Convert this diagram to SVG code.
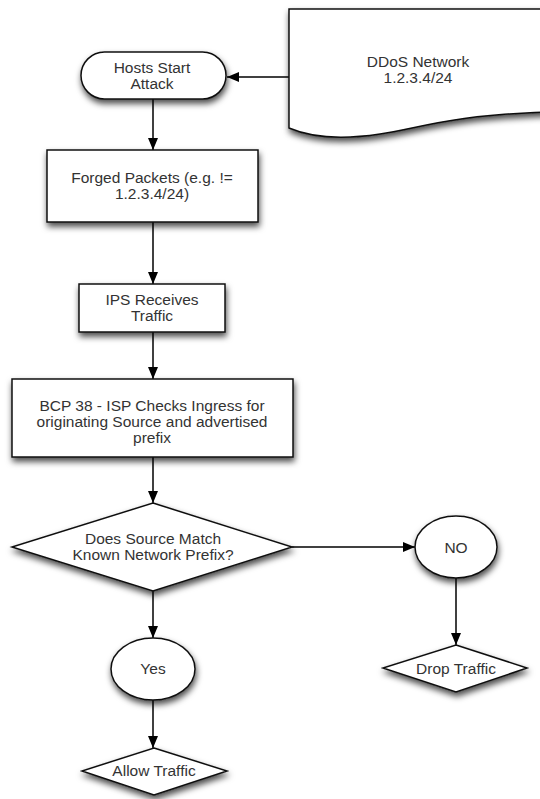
<svg xmlns="http://www.w3.org/2000/svg" width="540" height="799" viewBox="0 0 540 799">
<defs>
<filter id="sh" x="-20%" y="-20%" width="140%" height="160%">
<feDropShadow dx="1" dy="4" stdDeviation="3" flood-color="#000" flood-opacity="0.7"/>
</filter>
<marker id="ah" viewBox="0 0 12 10" refX="12" refY="5" markerWidth="12" markerHeight="10" markerUnits="userSpaceOnUse" orient="auto">
<path d="M0,0 L12,5 L0,10 z" fill="#000"/>
</marker>
</defs>
<style>
.n{fill:#fff;stroke:#111;stroke-width:1.5;filter:url(#sh)}
.t{font-family:"Liberation Sans",Arial,sans-serif;font-size:15.5px;fill:#333;text-anchor:middle}
.c{fill:none;stroke:#000;stroke-width:1.5;marker-end:url(#ah)}
</style>
<rect width="540" height="799" fill="#fff"/>
<g id="connectors">
<line class="c" x1="289" y1="77" x2="227" y2="77"/>
<line class="c" x1="153" y1="99" x2="153" y2="150"/>
<line class="c" x1="153" y1="222" x2="153" y2="284"/>
<line class="c" x1="153" y1="332" x2="153" y2="379"/>
<line class="c" x1="153" y1="457" x2="153" y2="503"/>
<line class="c" x1="292" y1="547" x2="415" y2="547"/>
<line class="c" x1="456" y1="578" x2="456" y2="645"/>
<line class="c" x1="153" y1="591" x2="153" y2="638"/>
<line class="c" x1="153" y1="700" x2="153" y2="748"/>
</g>
<g id="ddos">
<path class="n" d="M289,9 H548 V112 C450,115 420,128 380,134 C340,140 310,137 289,128 Z"/>
<text class="t" x="418" y="67">DDoS Network</text>
<text class="t" x="418" y="83">1.2.3.4/24</text>
</g>
<g id="hosts">
<rect class="n" x="81" y="52" width="145" height="47" rx="23.5"/>
<text class="t" x="152" y="73">Hosts Start</text>
<text class="t" x="152" y="89">Attack</text>
</g>
<g id="forged">
<rect class="n" x="47" y="150" width="211" height="72"/>
<text class="t" x="152" y="183">Forged Packets (e.g. !=</text>
<text class="t" x="152" y="199">1.2.3.4/24)</text>
</g>
<g id="ips">
<rect class="n" x="79" y="284" width="146" height="48"/>
<text class="t" x="152" y="305">IPS Receives</text>
<text class="t" x="152" y="321">Traffic</text>
</g>
<g id="bcp">
<rect class="n" x="12" y="379" width="281" height="78"/>
<text class="t" x="152" y="411">BCP 38 - ISP Checks Ingress for</text>
<text class="t" x="152" y="427">originating Source and advertised</text>
<text class="t" x="152" y="443">prefix</text>
</g>
<g id="decision">
<polygon class="n" points="153,503 292,547 153,591 12,547"/>
<text class="t" x="153" y="544">Does Source Match</text>
<text class="t" x="153" y="560">Known Network Prefix?</text>
</g>
<g id="no">
<ellipse class="n" cx="456" cy="547" rx="41" ry="31"/>
<text class="t" x="456" y="553">NO</text>
</g>
<g id="drop">
<polygon class="n" points="456,645 527,668 456,692 383,668"/>
<text class="t" x="456" y="674">Drop Traffic</text>
</g>
<g id="yes">
<ellipse class="n" cx="153" cy="669" rx="42" ry="31"/>
<text class="t" x="153" y="674">Yes</text>
</g>
<g id="allow">
<polygon class="n" points="154,748 227,771 154,795 82,771"/>
<text class="t" x="154" y="776">Allow Traffic</text>
</g>
</svg>
